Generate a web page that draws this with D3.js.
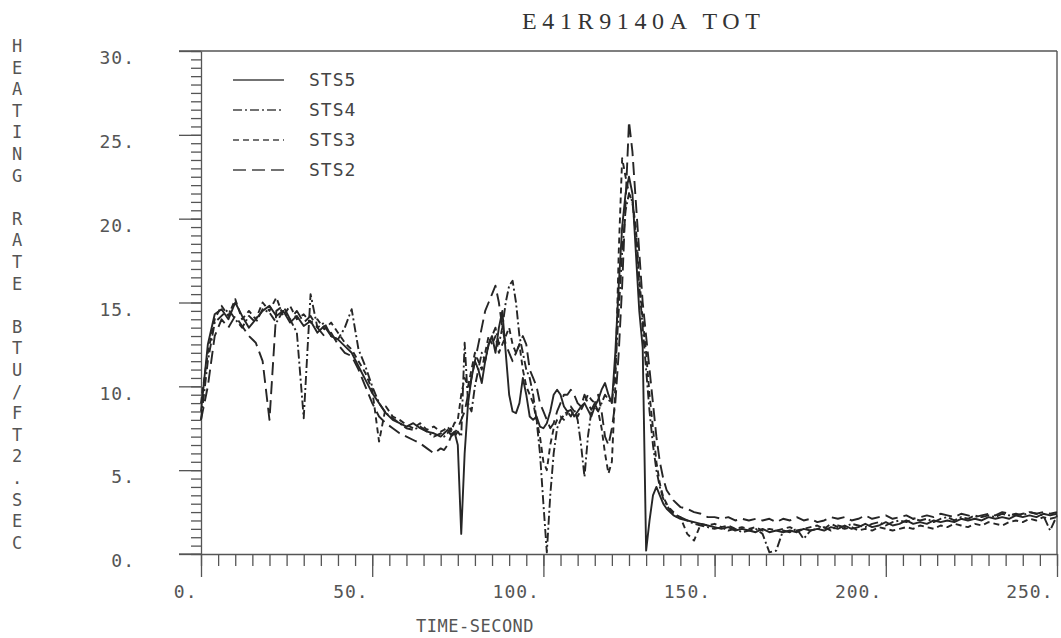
<!DOCTYPE html>
<html>
<head>
<meta charset="utf-8">
<script src="https://cdnjs.cloudflare.com/ajax/libs/d3/7.8.5/d3.min.js"></script>
<style>
  body { margin: 0; background: #fff; }
  .axis text { font-family: "DejaVu Sans Mono", monospace; font-size: 18px; fill: #555; letter-spacing: 1px; }
  .axis line, .axis path { stroke: #555; stroke-width: 1.3; }
</style>
</head>
<body>
<div id="chart"></div>
<script>
// Time grid (seconds): 2 s steps, 1 s steps round the spikes, 2 s steps in the tail
var timeSec = [
  0,2,4,6,8,10,12,14,16,18,20,22,24,26,28,30,32,34,36,38,40,42,44,46,48,50,52,54,56,58,60,62,64,66,68,70,
  71,72,73,74,75,76,77,78,79,80,81,82,83,84,85,86,87,88,89,90,91,92,93,94,95,96,97,98,99,100,
  101,102,103,104,105,106,107,108,109,110,111,112,113,114,115,116,117,118,119,120,
  121,122,123,124,125,126,127,128,129,130,131,132,133,134,135,136,137,138,139,
  140,142,144,146,148,150,152,154,156,158,160,162,164,166,168,170,172,174,176,178,
  180,182,184,186,188,190,192,194,196,198,200,202,204,206,208,210,212,214,216,218,
  220,222,224,226,228,230,232,234,236,238,240,242,244,246,248,250
];

// Heating rate, BTU/FT2.SEC
var sts5 = [
  8.5,12.5,14.3,14.6,14.0,15.0,14.2,13.5,14.0,14.5, 14.8,14.2,14.5,13.8,14.2,13.6,13.9,13.2,13.6,13.0,
  12.8,12.4,12.0,11.2,10.4,9.6,9.0,8.4,8.0,7.8, 7.6,7.8,7.5,7.3,7.2,7.0,
  7.2,7.4,7.1,7.3,6.5,1.2,6.0,9.0,10.5,11.5, 11.0,10.2,11.5,12.5,13.0,12.0,13.5,14.5,12.0,9.5,
  8.5,8.4,9.0,10.5,9.5,8.2,8.0,8.2,7.6,7.5, 7.8,8.5,9.5,9.8,9.5,8.8,8.5,8.6,8.2,8.5,
  8.8,9.0,8.6,8.2,8.8,9.2,9.8,10.2,9.5,9.0, 12.0,16.0,19.5,21.5,22.5,21.5,18.0,14.5,12.3,0.2,
  2.0,3.5,4.0,3.5,3.0,2.7,2.5,2.3,2.2,
  2.1,2.0,1.9,1.8,1.7,1.6,1.5,1.6,1.4,1.5, 1.4,1.3,1.5,1.3,1.4,1.3,1.4,1.3,1.5,1.4,
  1.5,1.4,1.6,1.5,1.7,1.5,1.6,1.8,1.6,1.7, 1.9,1.7,1.8,2.0,1.8,1.9,1.8,2.0,1.9,2.0,
  1.9,2.1,2.0,2.1,2.0,2.2,2.1,2.2,2.1,2.3, 2.2,2.3,2.2,2.4,2.3,2.4
];
var sts4 = [
  8.0,11.5,13.8,14.2,14.6,14.0,13.5,14.2,13.8,14.6, 14.4,13.8,14.5,14.0,13.2,8.1,15.5,13.5,13.8,13.0,
  12.8,13.5,14.6,12.2,11.2,10.0,9.0,8.4,8.1,7.8, 7.5,7.4,7.6,7.3,7.0,7.2,
  7.0,7.2,7.5,7.0,7.3,7.0,12.6,9.0,8.5,10.0, 11.0,12.0,11.5,12.5,13.0,13.5,12.5,13.5,15.0,16.0,
  16.3,15.0,13.0,12.0,11.0,10.5,9.5,8.0,6.0,3.0, 0.1,3.5,6.0,7.5,8.0,8.3,8.5,8.2,8.6,8.0,
  6.5,4.6,7.0,8.5,8.8,8.5,9.0,9.5,9.2,9.0, 11.0,14.5,18.0,20.5,21.5,21.0,19.0,16.0,13.5,11.0,
  8.5,6.5,5.0,4.0,3.3,2.9,2.6,2.4,2.2,
  2.2,2.0,1.8,1.7,1.6,1.5,1.6,1.4,1.5,1.3, 1.4,1.5,1.2,0.1,0.2,1.4,1.3,1.5,0.9,1.4,
  1.5,1.6,1.4,1.7,1.6,1.8,1.7,1.6,1.8,1.9, 1.7,1.9,2.0,1.9,2.1,2.0,2.1,1.9,2.1,2.2,
  2.0,2.2,2.1,2.3,2.2,2.3,2.2,2.4,2.3,2.4, 2.3,2.5,2.4,2.3,1.4,2.3
];
var sts3 = [
  9.0,12.0,14.0,14.8,14.2,15.2,14.0,14.5,14.0,15.0, 14.5,15.3,14.2,14.8,14.0,14.3,13.8,14.0,13.4,13.8,
  13.2,12.6,12.2,11.5,10.8,9.8,6.7,8.8,8.2,8.0, 7.7,7.5,7.8,7.4,7.6,7.3,
  7.4,7.6,7.3,7.8,8.0,9.5,10.5,10.0,11.0,12.0, 11.5,11.0,12.0,13.0,12.5,13.0,12.0,12.5,13.0,13.5,
  12.5,12.0,12.5,11.0,10.0,9.5,9.0,8.0,7.0,5.5, 5.0,6.5,7.5,8.0,8.2,8.0,8.4,8.8,8.5,8.2,
  8.6,9.0,9.5,9.2,9.0,8.5,7.5,6.0,4.8,5.5, 10.0,18.0,23.6,22.5,21.5,21.0,19.5,16.5,14.0,12.0,
  9.5,7.5,5.5,4.2,3.4,3.0,2.7,2.5,2.3,
  2.2,1.2,0.8,1.8,1.7,1.8,1.6,1.7,1.5,1.6, 1.5,1.6,1.4,1.5,1.4,1.5,1.6,1.4,1.5,1.6,
  1.7,1.5,1.8,1.6,1.5,1.6,1.4,1.5,1.4,1.6, 1.5,1.4,1.5,1.6,1.5,1.7,1.6,1.5,1.7,1.6,
  1.8,1.7,1.6,1.8,1.7,1.9,1.8,1.7,1.9,2.0, 1.9,2.1,2.0,2.2,2.1,2.2
];
var sts2 = [
  8.0,10.0,13.0,14.0,13.5,14.2,13.6,13.0,12.6,11.5, 8.0,14.5,14.8,14.0,14.5,13.8,14.2,13.5,13.0,13.2,
  12.5,12.0,11.8,11.0,10.0,9.0,8.2,7.8,7.5,7.2, 7.0,6.8,6.6,6.3,6.0,6.3,
  6.2,6.5,7.0,7.2,7.5,8.0,8.5,9.5,10.5,11.5, 12.5,13.5,14.5,15.0,15.5,16.0,15.0,13.5,12.5,12.0,
  11.5,12.0,12.5,13.0,12.5,11.0,10.5,10.0,9.0,8.5, 8.0,7.5,7.8,8.5,9.0,9.5,9.5,9.8,9.5,9.0,
  8.8,9.5,9.0,8.6,9.0,9.5,8.5,7.0,6.5,7.5, 9.0,12.0,16.0,21.0,25.8,24.0,21.0,18.0,15.0,13.0,
  11.0,9.0,7.0,5.5,4.5,3.8,3.5,3.2,3.0,
  2.8,2.7,2.5,2.4,2.2,2.2,2.1,2.2,2.0,2.1, 2.0,2.1,2.0,2.1,1.9,2.1,2.0,2.2,2.0,2.1,
  1.9,2.0,2.2,2.1,2.2,2.0,2.1,2.3,2.1,2.2, 2.3,2.1,2.2,2.3,2.1,2.2,2.3,2.2,2.4,2.3,
  2.2,2.4,2.3,2.2,2.3,2.4,2.3,2.5,2.4,2.3, 2.4,2.5,2.4,2.5,2.4,2.5
];

var seriesNames = ["STS5", "STS4", "STS3", "STS2"];
var xTicks = [0, 50, 100, 150, 200, 250];
var yTicks = [0, 5, 10, 15, 20, 25, 30];
var titleText = "E41R9140A TOT";
var xLabel = "TIME-SECOND";
var yLabel = "HEATING RATE BTU/FT2.SEC";

// Dash pattern for each series (same order as seriesNames)
var dashes = ["none", "9,3,2,3", "6,4", "13,6"];

var width = 1061, height = 638;
var margin = {top: 51, right: 4, bottom: 84, left: 201};
var plotW = width - margin.left - margin.right;
var plotH = height - margin.top - margin.bottom;

var svg = d3.select("#chart")
    .append("svg")
    .attr("width", width)
    .attr("height", height)
    .style("background", "#fff");

var g = svg.append("g")
    .attr("transform", "translate(" + margin.left + "," + margin.top + ")");

var xScale = d3.scaleLinear().domain([0, 250]).range([0, plotW]);
var yScale = d3.scaleLinear().domain([0, 30]).range([plotH, 0]);

// Frame: top and right edges
g.append("line")
    .attr("x1", -22).attr("x2", plotW).attr("y1", 0).attr("y2", 0)
    .attr("stroke", "#555").attr("stroke-width", 1.4);
g.append("line")
    .attr("x1", plotW).attr("x2", plotW).attr("y1", 0).attr("y2", plotH)
    .attr("stroke", "#555").attr("stroke-width", 1.4);

// Y axis, minor ticks every 0.5
g.append("g")
    .attr("class", "axis")
    .call(d3.axisLeft(yScale).tickValues(d3.range(0, 30.01, 0.5)).tickSize(10).tickSizeOuter(0).tickFormat(""));

// Y axis, major ticks
var yMajor = g.append("g")
    .attr("class", "axis")
    .call(d3.axisLeft(yScale).tickValues(yTicks).tickSize(22).tickPadding(44)
        .tickFormat(function(d) { return d + "."; }));
yMajor.select(".domain").remove();
yMajor.selectAll("text").attr("dy", "0.32em").attr("y", 7);

// X axis, minor ticks every 5
g.append("g")
    .attr("class", "axis")
    .attr("transform", "translate(0," + plotH + ")")
    .call(d3.axisBottom(xScale).tickValues(d3.range(0, 250.01, 5)).tickSize(12).tickSizeOuter(0).tickFormat(""));

// X axis, major ticks
var xMajor = g.append("g")
    .attr("class", "axis")
    .attr("transform", "translate(0," + plotH + ")")
    .call(d3.axisBottom(xScale).tickValues(xTicks).tickSize(23)
        .tickFormat(function(d) { return d + "."; }));
xMajor.select(".domain").remove();
xMajor.selectAll("text")
    .attr("text-anchor", "end")
    .attr("x", -4)
    .attr("y", 38)
    .attr("dy", "0.35em");

// x axis line continues left of the y axis
g.append("line")
    .attr("x1", -22).attr("x2", 0).attr("y1", plotH).attr("y2", plotH)
    .attr("stroke", "#555").attr("stroke-width", 1.3);

// Lines
var line = d3.line()
    .x(function(d) { return xScale(d[0]); })
    .y(function(d) { return yScale(d[1]); });

var allValues = [sts5, sts4, sts3, sts2];
var series = seriesNames.map(function(name, i) {
    return {
        name: name,
        dash: dashes[i],
        values: timeSec.map(function(t, j) { return [t, allValues[i][j]]; })
    };
});

g.selectAll(".series")
    .data(series)
    .enter()
    .append("path")
    .attr("class", "series")
    .attr("d", function(d) { return line(d.values); })
    .attr("fill", "none")
    .attr("stroke", "#262626")
    .attr("stroke-width", 1.9)
    .attr("stroke-linejoin", "round")
    .attr("stroke-dasharray", function(d) { return d.dash; });

// Legend
var legend = svg.append("g");
series.forEach(function(s, i) {
    var ly = 80 + i * 30;
    legend.append("line")
        .attr("x1", 233).attr("x2", 284).attr("y1", ly).attr("y2", ly)
        .attr("stroke", "#444").attr("stroke-width", 1.3)
        .attr("stroke-dasharray", s.dash);
    legend.append("text")
        .attr("x", 309).attr("y", ly)
        .attr("dy", "0.35em")
        .attr("font-family", "DejaVu Sans Mono, monospace")
        .attr("font-size", "18px")
        .attr("letter-spacing", "1px")
        .attr("fill", "#444")
        .text(s.name);
});

// Title
svg.append("text")
    .attr("x", 522).attr("y", 29)
    .attr("font-family", "Liberation Serif, serif")
    .attr("font-size", "24px")
    .attr("fill", "#333")
    .attr("textLength", 238)
    .attr("lengthAdjust", "spacing")
    .text(titleText);

// X axis title
svg.append("text")
    .attr("x", 416).attr("y", 626)
    .attr("dy", "0.35em")
    .attr("font-family", "DejaVu Sans Mono, monospace")
    .attr("font-size", "17px")
    .attr("letter-spacing", "0.5px")
    .attr("fill", "#555")
    .text(xLabel);

// Y axis title, one letter per row
svg.append("g")
    .selectAll("text")
    .data(yLabel.split(""))
    .enter()
    .append("text")
    .attr("x", 17)
    .attr("y", function(d, i) { return 46 + i * 21.6; })
    .attr("dy", "0.35em")
    .attr("text-anchor", "middle")
    .attr("font-family", "DejaVu Sans Mono, monospace")
    .attr("font-size", "17px")
    .attr("fill", "#555")
    .text(function(d) { return d; });
</script>
</body>
</html>
